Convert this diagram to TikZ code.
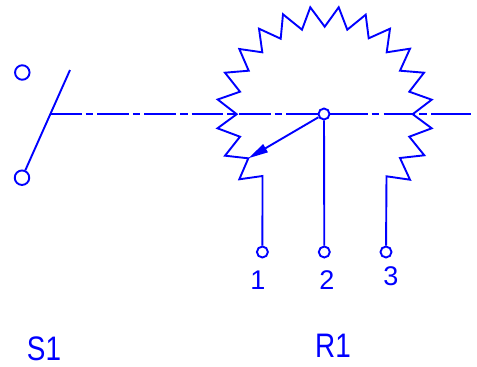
\documentclass[tikz,border=0pt]{standalone}
\usepackage{fontspec}
\setmainfont{Liberation Sans}
\usetikzlibrary{arrows.meta}
\definecolor{wire}{RGB}{0,0,255}
\tikzset{
  x=1pt,y=-1pt,
  line/.style={draw=wire,line width=1.9pt,line join=miter},
  ring/.style={circle,draw=wire,line width=1.9pt,fill=white,inner sep=0pt,minimum size=#1},
  chain/.style={line,dash pattern=on 31.7pt off 4pt on 7.6pt off 4pt,dash phase=1.2pt},
  chainb/.style={line,dash pattern=on 43.7pt off 4pt on 7.6pt off 4.4pt on 31.7pt off 4pt on 7.6pt off 4.4pt on 60pt off 1pt},
  pinlabel/.style={text=wire,inner sep=0pt,xscale=1,font=\fontsize{27}{27}\selectfont},
  reflabel/.style={text=wire,inner sep=0pt,xscale=.82,font=\fontsize{34}{34}\selectfont},
}
\begin{document}
\begin{tikzpicture}
\useasboundingbox (0,0) rectangle (477,367);
% junctions and end points
\coordinate (pivot) at (51,114);
\coordinate (armend) at (70,70);
\coordinate (lineend) at (471,114);
\coordinate (wiper) at (248.3,158.3);
\coordinate (t1) at (262.5,176);
\coordinate (t3) at (386.5,176.3);
\node[ring=14.5pt] (s1a) at (22.3,72.5) {};
\node[ring=14.5pt] (s1b) at (22,177.7) {};
\node[ring=11pt] (p1) at (262.4,252) {};
\node[ring=11pt] (p2) at (324.3,252) {};
\node[ring=11pt] (p3) at (386,252) {};
% mechanical link
\draw[chain] (pivot) -- (319,114);
\draw[chainb] (324,114) -- (lineend);
% switch
\draw[line] (s1b) -- (armend);
% resistor body
\draw[line] (p1) -- (t1) -- (239.3,179.3) -- (wiper) -- (225,155.7) -- (240,136.7) -- (217.5,128.3)
 -- (236.7,114.2) -- (217.7,99.5) -- (240,91.7) -- (225,72.7) -- (248.7,70.7) -- (239.3,49)
 -- (262.3,52.3) -- (259,28.7) -- (280.7,38.7) -- (283,14.3) -- (302,29.7) -- (310.3,7.3)
 -- (324.7,26.7) -- (338.7,7.3) -- (347.3,29.7) -- (365.7,14.7) -- (368.7,38.3) -- (390,28.7)
 -- (386.7,52.3) -- (410,48.7) -- (400,70.7) -- (424,72.7) -- (409.3,91.7) -- (431.7,99.7)
 -- (412.7,114.2) -- (431.7,128.3) -- (409.3,136.7) -- (424.3,155.3) -- (400,158) -- (410,179.7)
 -- (t3) -- (p3);
% wiper
\node[ring=11pt] (c) at (324,114) {};
\draw[line] (c) -- (p2);
\draw[line,-{Triangle[length=20pt,width=9pt]}] (c) -- (wiper);
% labels
\node[pinlabel] (l1) at (258,280) {1};
\node[pinlabel] (l2) at (327,280) {2};
\node[pinlabel] (l3) at (391,276.5) {3};
\node[reflabel] (r1) at (333,346) {R1};
\node[reflabel] (s1) at (44,349) {S1};
\end{tikzpicture}
\end{document}
